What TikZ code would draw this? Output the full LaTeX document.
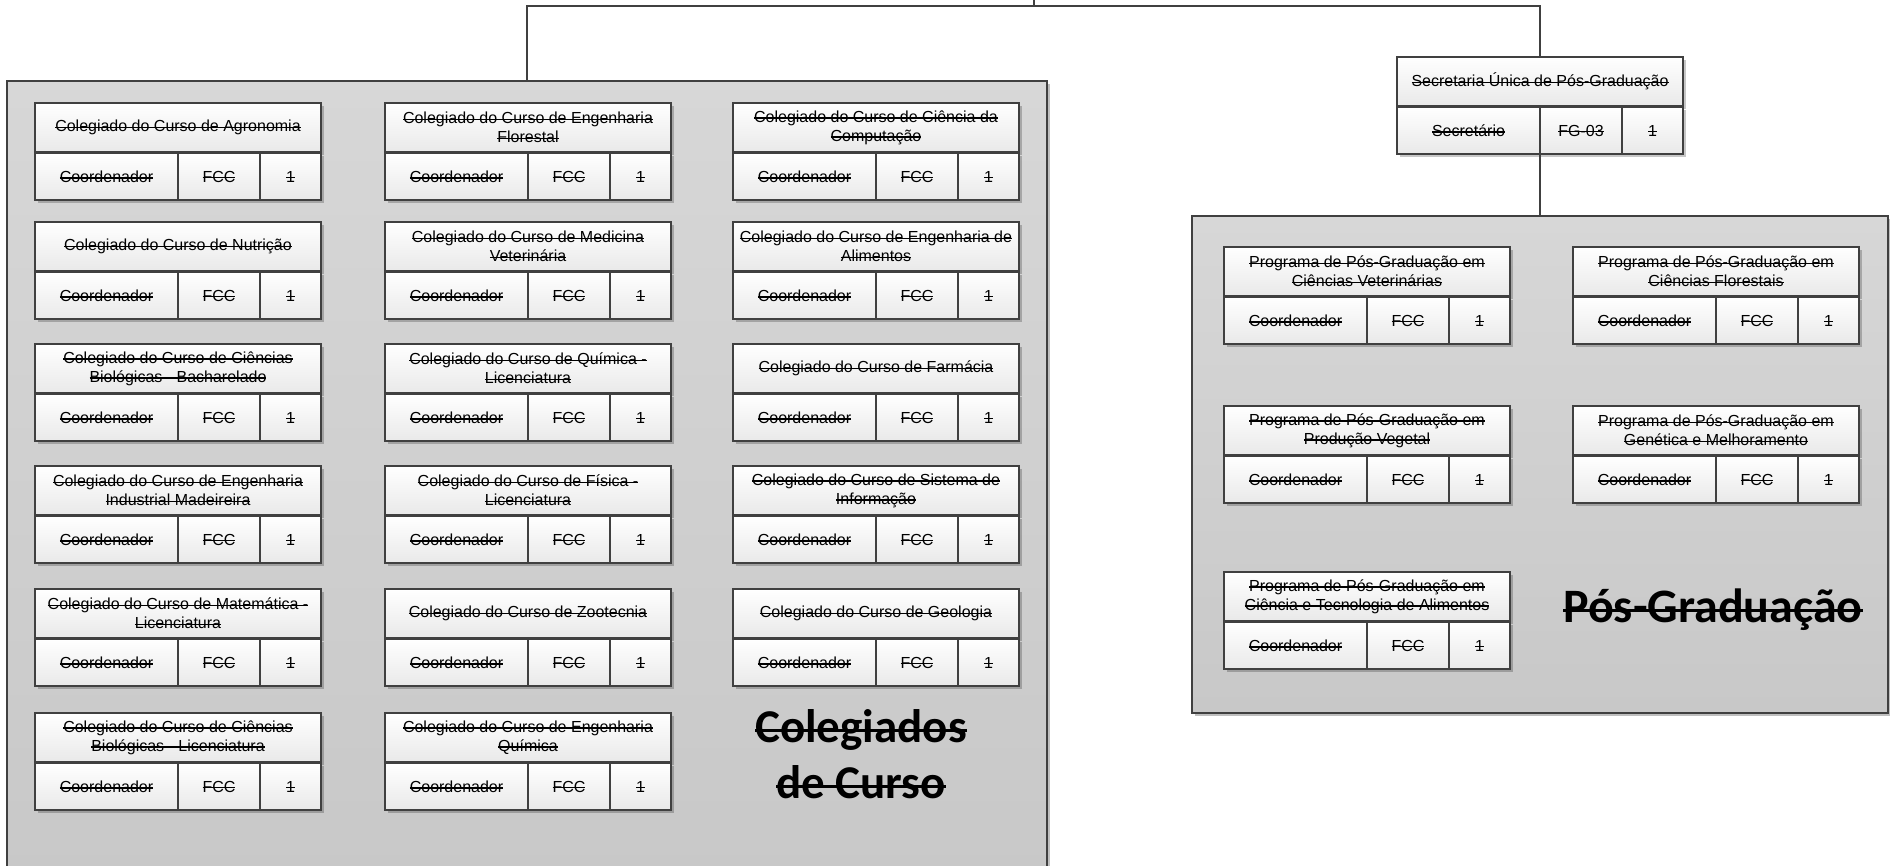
\documentclass[tikz,border=0pt]{standalone}
\usepackage{fontspec}
\setmainfont{Liberation Sans}
\newfontfamily\calibri{Carlito}
\usetikzlibrary{shadows}
\newsavebox{\strkbox}
\newcommand{\st}[1]{\sbox{\strkbox}{#1}\rlap{\usebox{\strkbox}}\rule[\dimexpr0.5ex-0.65pt\relax]{\wd\strkbox}{1.3pt}}
\newcommand{\bst}[1]{\sbox{\strkbox}{#1}\rlap{\usebox{\strkbox}}\rule[\dimexpr0.5ex-1.75pt\relax]{\wd\strkbox}{3.5pt}}
\definecolor{bordc}{HTML}{404040}
\definecolor{grptop}{HTML}{D7D7D7}
\definecolor{grpbot}{HTML}{C8C8C8}
\definecolor{cellbot}{HTML}{E9E9E9}
\tikzset{
  cellbase/.style={draw=bordc, line width=2pt, inner sep=0pt, outer sep=0pt,
    anchor=north west, top color=white, bottom color=cellbot,
    font=\fontsize{16}{19}\selectfont, align=center,
    drop shadow={shadow xshift=2.5pt, shadow yshift=-2.5pt, opacity=0.22, fill=black}},
  titlecell/.style={cellbase, minimum width=286pt, minimum height=49pt},
  rolecell/.style={cellbase, minimum width=143pt, minimum height=47pt},
  codecell/.style={cellbase, minimum width=82pt, minimum height=47pt},
  numcell/.style={cellbase, minimum width=61pt, minimum height=47pt},
  groupbox/.style={draw=bordc, line width=2pt, inner sep=0pt, outer sep=0pt,
    anchor=north west, top color=grptop, bottom color=grpbot,
    drop shadow={shadow xshift=3pt, shadow yshift=-3pt, opacity=0.25, fill=black}},
  wire/.style={draw=bordc, line width=2pt},
  biglabel/.style={font=\calibri\bfseries\fontsize{47}{56}\selectfont, inner sep=0pt, anchor=base},
}
% #1 name, #2 x, #3 y, #4 title, #5 role, #6 code
\newcommand{\orgunit}[6]{%
  \node[titlecell] (#1) at (#2,#3) {#4};
  \node[rolecell] (#1-r) at ([yshift=-1pt]#1.south west) {\st{#5}};
  \node[codecell] (#1-c) at (#1-r.north east) {\st{#6}};
  \node[numcell] (#1-n) at (#1-c.north east) {\st{1}};
}
\begin{document}
\begin{tikzpicture}[x=1pt,y=-1pt]
\useasboundingbox (0,0) rectangle (1890,865);
\clip (0,0) rectangle (1890,865);
\fill[white] (0,0) rectangle (1890,865);

% group boxes
\node[groupbox, minimum width=1040pt, minimum height=800pt] (colbox) at (7,81) {};
\node[groupbox, minimum width=696pt, minimum height=497pt] (posbox) at (1192,216) {};

% secretaria
\orgunit{sec}{1397}{57}{\st{Secretaria Única de Pós-Graduação}}{Secretário}{FG-03}

% column 1
\orgunit{agro}{35}{103}{\st{Colegiado do Curso de Agronomia}}{Coordenador}{FCC}
\orgunit{nutr}{35}{222}{\st{Colegiado do Curso de Nutrição}}{Coordenador}{FCC}
\orgunit{biob}{35}{344}{\st{Colegiado do Curso de Ciências}\\\st{Biológicas - Bacharelado}}{Coordenador}{FCC}
\orgunit{eimd}{35}{466}{\st{Colegiado do Curso de Engenharia}\\\st{Industrial Madeireira}}{Coordenador}{FCC}
\orgunit{mate}{35}{589}{\st{Colegiado do Curso de Matemática -}\\\st{Licenciatura}}{Coordenador}{FCC}
\orgunit{biol}{35}{713}{\st{Colegiado do Curso de Ciências}\\\st{Biológicas - Licenciatura}}{Coordenador}{FCC}

% column 2
\orgunit{eflo}{385}{103}{\st{Colegiado do Curso de Engenharia}\\\st{Florestal}}{Coordenador}{FCC}
\orgunit{mvet}{385}{222}{\st{Colegiado do Curso de Medicina}\\\st{Veterinária}}{Coordenador}{FCC}
\orgunit{quim}{385}{344}{\st{Colegiado do Curso de Química -}\\\st{Licenciatura}}{Coordenador}{FCC}
\orgunit{fisi}{385}{466}{\st{Colegiado do Curso de Física -}\\\st{Licenciatura}}{Coordenador}{FCC}
\orgunit{zoot}{385}{589}{\st{Colegiado do Curso de Zootecnia}}{Coordenador}{FCC}
\orgunit{equi}{385}{713}{\st{Colegiado do Curso de Engenharia}\\\st{Química}}{Coordenador}{FCC}

% column 3
\orgunit{ccomp}{733}{103}{\st{Colegiado do Curso de Ciência da}\\\st{Computação}}{Coordenador}{FCC}
\orgunit{ealim}{733}{222}{\st{Colegiado do Curso de Engenharia de}\\\st{Alimentos}}{Coordenador}{FCC}
\orgunit{farm}{733}{344}{\st{Colegiado do Curso de Farmácia}}{Coordenador}{FCC}
\orgunit{sinf}{733}{466}{\st{Colegiado do Curso de Sistema de}\\\st{Informação}}{Coordenador}{FCC}
\orgunit{geol}{733}{589}{\st{Colegiado do Curso de Geologia}}{Coordenador}{FCC}

% pos-graduacao
\orgunit{ppvet}{1224}{247}{\st{Programa de Pós-Graduação em}\\\st{Ciências Veterinárias}}{Coordenador}{FCC}
\orgunit{ppflo}{1573}{247}{\st{Programa de Pós-Graduação em}\\\st{Ciências Florestais}}{Coordenador}{FCC}
\orgunit{ppveg}{1224}{406}{\st{Programa de Pós-Graduação em}\\\st{Produção Vegetal}}{Coordenador}{FCC}
\orgunit{ppgen}{1573}{406}{\st{Programa de Pós-Graduação em}\\\st{Genética e Melhoramento}}{Coordenador}{FCC}
\orgunit{ppcta}{1224}{572}{\st{Programa de Pós-Graduação em}\\\st{Ciência e Tecnologia de Alimentos}}{Coordenador}{FCC}

% big labels
\node[biglabel] (collab1) at (861,742) {\bst{Colegiados}};
\node[biglabel] (collab2) at (861,798) {\bst{de Curso}};
\node[biglabel, font=\calibri\bfseries\fontsize{48}{56}\selectfont] (poslab) at (1713,622) {\bst{Pós-Graduação}};

% connectors
\coordinate (bus) at (1034,6);
\coordinate (up) at (1034,-2);
\draw[wire] (colbox.north) |- (bus) -| (sec.north);
\draw[wire] (bus) -- (up);
\draw[wire] (posbox.north |- sec-r.south) -- (posbox.north);
\end{tikzpicture}
\end{document}
